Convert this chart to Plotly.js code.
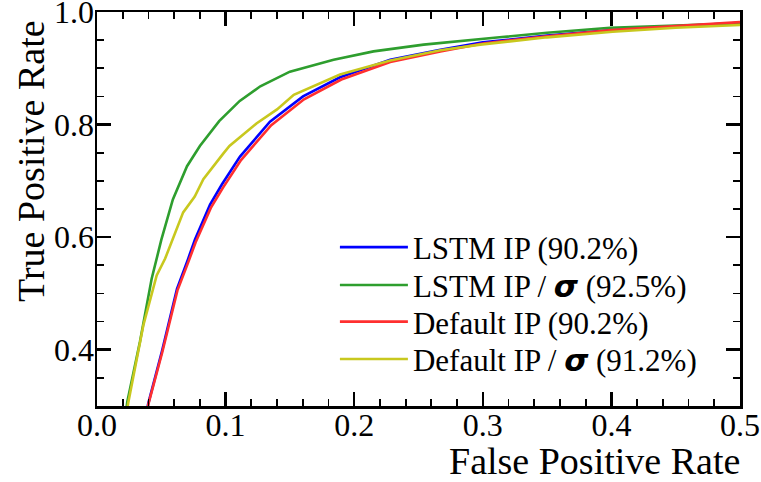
<!DOCTYPE html>
<html>
<head>
<meta charset="utf-8">
<script src="https://cdn.plot.ly/plotly-3.0.1.min.js"></script>
<style>html,body{margin:0;padding:0;background:#fff;}#chart{width:761px;height:482px;}</style>
</head>
<body>
<div id="chart"></div>
<script>
// Series names (legend labels)
const names = [
  'LSTM IP (90.2%)',
  'LSTM IP / <span style="font-family:DejaVu Sans"><b><i>σ</i></b></span> (92.5%)',
  'Default IP (90.2%)',
  'Default IP / <span style="font-family:DejaVu Sans"><b><i>σ</i></b></span> (91.2%)'
];

// Tick values / labels
const xTickVals = [0.0, 0.1, 0.2, 0.3, 0.4, 0.5];
const xTickText = ['0.0', '0.1', '0.2', '0.3', '0.4', '0.5'];
const yTickVals = [0.4, 0.6, 0.8, 1.0];
const yTickText = ['0.4', '0.6', '0.8', '1.0'];

// LSTM IP
const lstmX = [0.0390, 0.0397, 0.0505, 0.0622, 0.0708, 0.0762, 0.0879, 0.0972, 0.1112, 0.1345, 0.1602, 0.189, 0.228, 0.267, 0.300, 0.350, 0.400, 0.450, 0.500];
const lstmY = [0.290, 0.303, 0.397, 0.508, 0.561, 0.596, 0.658, 0.694, 0.743, 0.805, 0.850, 0.884, 0.915, 0.933, 0.946, 0.958, 0.968, 0.975, 0.981];

// LSTM IP / sigma
const lstmSigX = [0.0225, 0.0236, 0.0334, 0.0425, 0.0500, 0.0590, 0.0700, 0.0800, 0.0950, 0.1110, 0.1270, 0.1500, 0.1840, 0.2150, 0.2540, 0.2920, 0.3130, 0.3500, 0.3990, 0.4500, 0.5000];
const lstmSigY = [0.290, 0.308, 0.414, 0.526, 0.595, 0.667, 0.726, 0.762, 0.806, 0.842, 0.868, 0.894, 0.915, 0.930, 0.942, 0.951, 0.955, 0.963, 0.972, 0.976, 0.980];

// Default IP
const defX = [0.0392, 0.0399, 0.0507, 0.0625, 0.0712, 0.0767, 0.0885, 0.0980, 0.1120, 0.1355, 0.1610, 0.190, 0.228, 0.267, 0.300, 0.350, 0.400, 0.450, 0.500];
const defY = [0.290, 0.303, 0.395, 0.505, 0.557, 0.591, 0.652, 0.688, 0.737, 0.799, 0.845, 0.880, 0.911, 0.930, 0.944, 0.957, 0.968, 0.975, 0.982];

// Default IP / sigma
const defSigX = [0.0232, 0.0244, 0.0360, 0.0464, 0.0530, 0.0607, 0.0670, 0.0760, 0.0827, 0.0980, 0.1030, 0.1240, 0.1400, 0.1530, 0.1890, 0.2280, 0.2670, 0.2980, 0.3500, 0.4010, 0.4500, 0.5000];
const defSigY = [0.290, 0.307, 0.443, 0.532, 0.562, 0.608, 0.644, 0.672, 0.703, 0.748, 0.762, 0.802, 0.827, 0.853, 0.889, 0.914, 0.932, 0.942, 0.955, 0.965, 0.972, 0.977];

const colors = ['#0000ff', '#2e9e2e', '#ff2f2f', '#c8c81e'];
const font = 'Liberation Serif';
const legendIds = ['legend', 'legend2', 'legend3', 'legend4'];

const series = [[lstmX, lstmY], [lstmSigX, lstmSigY], [defX, defY], [defSigX, defSigY]];
const traces = series.map((s, i) => ({
  type: 'scatter', mode: 'lines', hoverinfo: 'skip',
  x: s[0], y: s[1], name: names[i], legend: legendIds[i],
  line: {color: colors[i], width: 2.6}
}));

const axisCommon = {
  showline: true, linecolor: '#000', linewidth: 2.5, mirror: 'allticks',
  ticks: 'inside', ticklen: 14, tickwidth: 2.5, tickcolor: '#000',
  showgrid: false, zeroline: false,
  tickfont: {family: font, size: 32, color: '#000'},
  tickmode: 'array', ticklabeloverflow: 'allow'
};

const legendRowsPx = [247.5, 285.3, 322.0, 359.3];
const plotTop = 12, plotBottom = 406;
function legendAt(py) {
  return {
    x: 0.37, xanchor: 'left',
    y: (plotBottom - py) / (plotBottom - plotTop), yanchor: 'middle',
    bgcolor: 'rgba(0,0,0,0)', borderwidth: 0,
    font: {family: font, size: 31, color: '#000'},
    itemwidth: 68
  };
}

const layout = {
  width: 761, height: 482,
  margin: {l: 97, r: 21, t: 12, b: 76},
  paper_bgcolor: '#fff', plot_bgcolor: '#fff',
  font: {family: font, color: '#000'},
  xaxis: Object.assign({}, axisCommon, {
    range: [0, 0.5], tickvals: xTickVals, ticktext: xTickText, ticklabelstandoff: -11,
    minor: {tickmode: 'linear', tick0: 0, dtick: 0.02, ticks: 'inside', ticklen: 7, tickwidth: 1.8, tickcolor: '#000'}
  }),
  yaxis: Object.assign({}, axisCommon, {
    range: [0.3, 1.0], tickvals: yTickVals, ticktext: yTickText, ticklabelstandoff: -6,
    minor: {tickmode: 'linear', tick0: 0, dtick: 0.05, ticks: 'inside', ticklen: 7, tickwidth: 1.8, tickcolor: '#000'}
  }),
  showlegend: true,
  legend: legendAt(legendRowsPx[0]),
  legend2: legendAt(legendRowsPx[1]),
  legend3: legendAt(legendRowsPx[2]),
  legend4: legendAt(legendRowsPx[3]),
  annotations: [
    {text: 'False Positive Rate', xref: 'paper', yref: 'paper', x: 1.003, y: -0.14,
     xanchor: 'right', yanchor: 'middle', showarrow: false,
     font: {family: font, size: 38, color: '#000'}},
    {text: 'True Positive Rate', xref: 'paper', yref: 'paper', x: -0.1026, y: 0.985,
     xanchor: 'center', yanchor: 'top', textangle: -90, showarrow: false,
     font: {family: font, size: 38, color: '#000'}}
  ]
};

Plotly.newPlot('chart', traces, layout, {staticPlot: true, displayModeBar: false});
</script>
</body>
</html>
